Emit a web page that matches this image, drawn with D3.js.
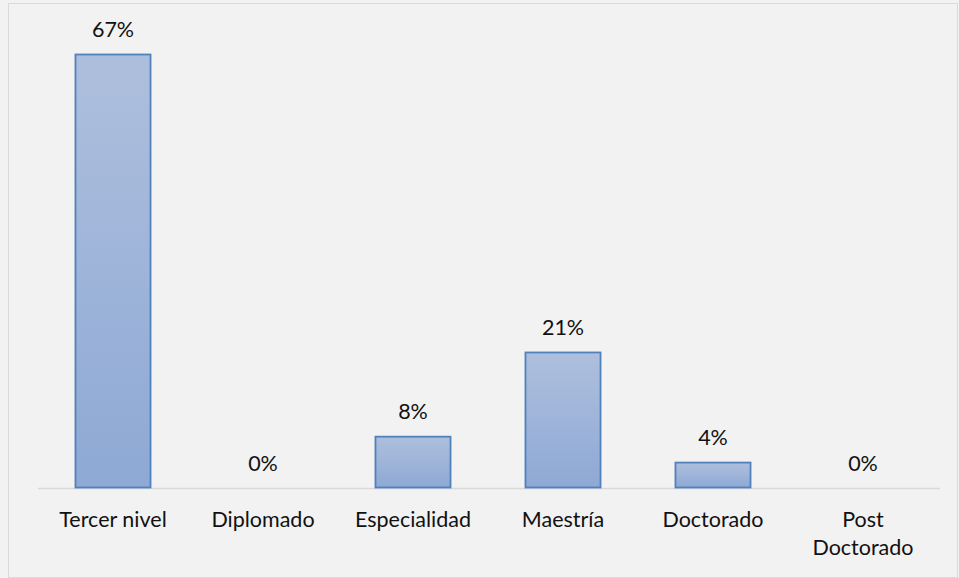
<!DOCTYPE html>
<html><head><meta charset="utf-8">
<script src="https://cdn.jsdelivr.net/npm/d3@7"></script>
<style>body{margin:0;background:#fff}svg{display:block}</style>
</head><body>
<script>
const categories = ["Tercer nivel","Diplomado","Especialidad","Maestría","Doctorado","Post Doctorado"];
const values = [67,0,8,21,4,0];
const labels = ["67%","0%","8%","21%","4%","0%"];

const W=959,H=578;
const svg=d3.select("body").append("svg").attr("width",W).attr("height",H);
svg.append("rect").attr("x",0).attr("y",0).attr("width",W).attr("height",H).attr("fill","#f2f2f2");
svg.append("rect").attr("x",8.5).attr("y",3.5).attr("width",949).attr("height",574).attr("fill","#f2f2f2").attr("stroke","#d9d9d9");

const defs=svg.append("defs");
const g=defs.append("linearGradient").attr("id","gr").attr("x1",0).attr("y1",0).attr("x2",0).attr("y2",1);
g.append("stop").attr("offset","0%").attr("stop-color","#aebfdd");
g.append("stop").attr("offset","100%").attr("stop-color","#8ea9d5");

const x=d3.scaleBand().domain(categories).range([38,938]).paddingInner(0.493).paddingOuter(0.2465);
const y=d3.scaleLinear().domain([0,67]).range([488,54]);

svg.append("line").attr("x1",38).attr("x2",940).attr("y1",488.5).attr("y2",488.5).attr("stroke","#d9d9d9").attr("stroke-width",1.5);

svg.selectAll("rect.bar").data(values).enter().append("rect").attr("class","bar")
 .attr("x",(d,i)=>x(categories[i])+0.5).attr("width",x.bandwidth()-1)
 .attr("y",d=>y(d)+0.5).attr("height",d=>Math.max(0,y(0)-y(d)-1))
 .attr("fill","url(#gr)").attr("stroke","#4f81bd").attr("stroke-width",1.8)
 .style("display",d=>d>0?null:"none");

const font="Lato, 'Open Sans', sans-serif";
svg.selectAll("text.lab").data(values).enter().append("text")
 .attr("x",(d,i)=>x(categories[i])+x.bandwidth()/2).attr("y",d=>y(d)-17)
 .attr("text-anchor","middle").attr("font-family",font).attr("font-size",21.5).attr("fill","#111")
 .text((d,i)=>labels[i]);

const ax=svg.selectAll("text.cat").data(categories).enter().append("text")
 .attr("x",d=>x(d)+x.bandwidth()/2).attr("y",527)
 .attr("text-anchor","middle").attr("font-family",font).attr("font-size",21.5).attr("fill","#111");
ax.each(function(d){
  const t=d3.select(this);
  const parts = d==="Post Doctorado" ? ["Post","Doctorado"] : [d];
  parts.forEach((p,i)=>t.append("tspan").attr("x",x(d)+x.bandwidth()/2).attr("dy",i?28:0).text(p));
});
</script>
</body></html>
